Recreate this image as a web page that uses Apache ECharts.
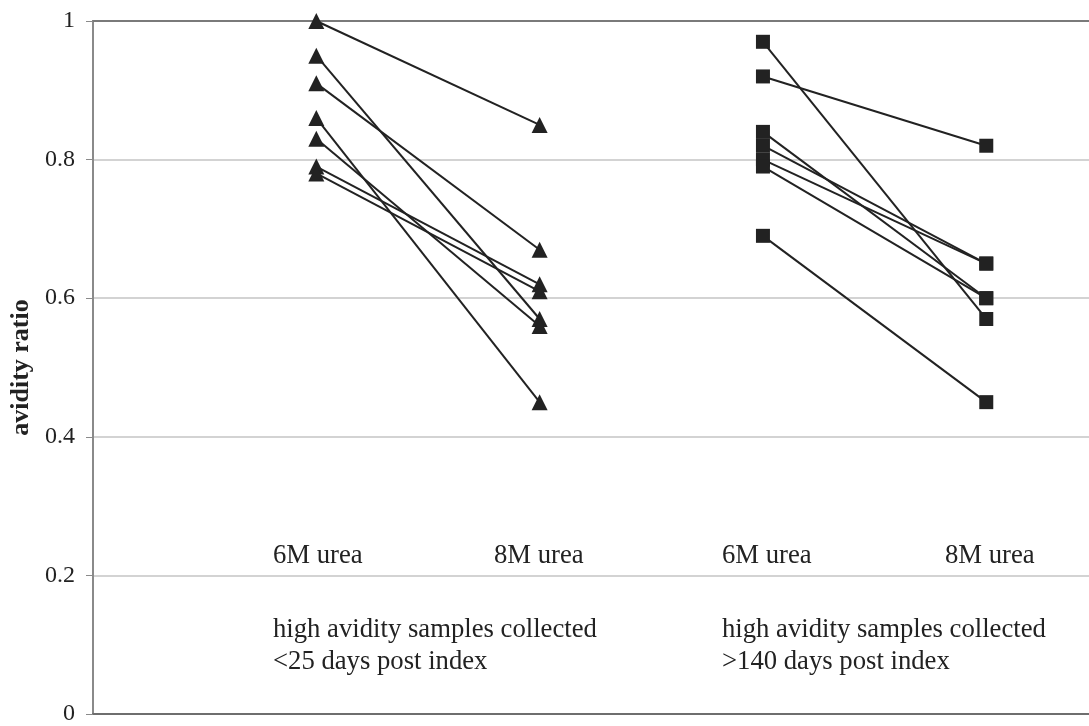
<!DOCTYPE html>
<html>
<head>
<meta charset="utf-8">
<script src="https://cdn.jsdelivr.net/npm/echarts@6/dist/echarts.min.js"></script>
<style>
  html, body { margin: 0; padding: 0; background: #ffffff; }
  #chart { width: 1089px; height: 726px; }
</style>
</head>
<body>
<div id="chart"></div>
<script>
// Conditions (x positions along value axis)
var conditionLabels = ['6M urea', '8M urea', '6M urea', '8M urea'];
var conditionX = [1, 2, 3, 4];

// Group 1: high avidity samples collected <25 days post index (triangles)
var group1_6M = [1.00, 0.95, 0.91, 0.86, 0.83, 0.79, 0.78];
var group1_8M = [0.85, 0.57, 0.67, 0.45, 0.56, 0.62, 0.61];

// Group 2: high avidity samples collected >140 days post index (squares)
var group2_6M = [0.97, 0.92, 0.84, 0.82, 0.80, 0.79, 0.69];
var group2_8M = [0.57, 0.82, 0.60, 0.65, 0.65, 0.60, 0.45];

var groupLabels = [
  'high avidity samples collected\n<25 days post index',
  'high avidity samples collected\n>140 days post index'
];

var yTicks = [0, 0.2, 0.4, 0.6, 0.8, 1];

var FONT = '"Liberation Serif", "Times New Roman", serif';
var INK = '#222222';

function pairSeries(a, b, xa, xb, symbol, size) {
  return a.map(function (v, i) {
    return {
      type: 'line',
      data: [[xa, v], [xb, b[i]]],
      symbol: symbol,
      symbolSize: size,
      showSymbol: true,
      lineStyle: { color: INK, width: 2 },
      itemStyle: { color: INK, borderWidth: 0 },
      emphasis: { disabled: true },
      animation: false,
      z: 3
    };
  });
}

var series = []
  .concat(pairSeries(group1_6M, group1_8M, conditionX[0], conditionX[1], 'triangle', 16))
  .concat(pairSeries(group2_6M, group2_8M, conditionX[2], conditionX[3], 'rect', 14));

var textLefts = [273, 494, 722, 945];
var graphics = conditionLabels.map(function (t, i) {
  return {
    type: 'text', left: textLefts[i], top: 540,
    style: { text: t, font: '26.7px ' + FONT, fill: INK, lineHeight: 32 }
  };
});
graphics.push({
  type: 'text', left: 273, top: 614,
  style: { text: groupLabels[0], font: '26.7px ' + FONT, fill: INK, lineHeight: 32 }
});
graphics.push({
  type: 'text', left: 722, top: 614,
  style: { text: groupLabels[1], font: '26.7px ' + FONT, fill: INK, lineHeight: 32 }
});

var chart = echarts.init(document.getElementById('chart'), null, { renderer: 'canvas' });
chart.setOption({
  animation: false,
  backgroundColor: '#ffffff',
  grid: { left: 93, right: 0, top: 21, bottom: 8, containLabel: false },
  xAxis: [{
    type: 'value', min: 0, max: 4.46, position: 'bottom',
    axisLine: { show: true, onZero: false, lineStyle: { color: '#6e6e6e', width: 2 } },
    axisTick: { show: false }, axisLabel: { show: false }, splitLine: { show: false }
  }, {
    type: 'value', min: 0, max: 4.46, position: 'top',
    axisLine: { show: true, onZero: false, lineStyle: { color: '#7a7a7a', width: 2 } },
    axisTick: { show: false }, axisLabel: { show: false }, splitLine: { show: false }
  }],
  yAxis: {
    type: 'value', min: yTicks[0], max: yTicks[yTicks.length - 1], interval: 0.2,
    name: 'avidity ratio', nameLocation: 'middle', nameRotate: 90, nameGap: 58,
    nameTextStyle: { fontFamily: FONT, fontWeight: 'bold', fontSize: 26, color: INK },
    axisLine: { show: true, lineStyle: { color: '#8a8a8a', width: 2 } },
    axisTick: { show: true, length: 7, lineStyle: { color: '#8a8a8a', width: 1 } },
    axisLabel: { fontFamily: FONT, fontSize: 24, color: INK, margin: 18 },
    splitLine: { show: true, lineStyle: { color: '#c4c4c4', width: 1.5 } }
  },
  series: series,
  graphic: graphics
});
</script>
</body>
</html>
